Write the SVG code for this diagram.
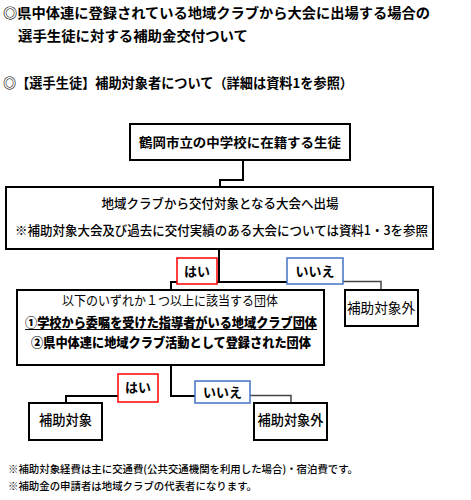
<svg xmlns="http://www.w3.org/2000/svg" width="471" height="500" viewBox="0 0 471 500">
<style>
text{font-family:"Noto Sans CJK JP","Noto Sans",sans-serif;fill:#000}
.t{font-size:14px;font-weight:700}
.b{font-size:13px;font-weight:500}
.n{font-size:13px;font-weight:400}
.h{font-size:13px;font-weight:900}
.f{font-size:10.5px;font-weight:500}
.box{fill:#fff;stroke:#000;stroke-width:2}
.yes{fill:#fff;stroke:#f00;stroke-width:1.5}
.no{fill:#fff;stroke:#4472c4;stroke-width:1.5}
.ln{fill:none;stroke:#000;stroke-width:2}
.lg{fill:none;stroke:#444;stroke-width:1.5}
</style>
<rect width="471" height="500" fill="#fff"/>
<g id="title">
<text class="t" x="3" y="18" textLength="427" lengthAdjust="spacingAndGlyphs">◎県中体連に登録されている地域クラブから大会に出場する場合の</text>
<text class="t" x="18" y="41" textLength="230" lengthAdjust="spacingAndGlyphs">選手生徒に対する補助金交付ついて</text>
<text class="t" x="3" y="88" textLength="350" lengthAdjust="spacingAndGlyphs" style="font-size:13.5px;font-weight:600">◎【選手生徒】補助対象者について（詳細は資料1を参照）</text>
</g>
<g id="connectors">
<polyline class="ln" points="243,160 243,180 220,180 220,188"/>
<polyline class="ln" points="219,249 219,282"/>
<polyline class="ln" points="171,290 171,282 288,282"/>
<polyline class="lg" points="343,281.5 381,281.5 381,290"/>
<polyline class="ln" points="171,365 171,396 196,396"/>
<polyline class="ln" points="66,403 66,396 118,396"/>
<polyline class="lg" points="250,395.5 291,395.5 291,403"/>
</g>
<g id="n1">
<rect class="box" x="130" y="124" width="220" height="36"/>
<text class="b" x="240" y="147" text-anchor="middle" textLength="202" lengthAdjust="spacingAndGlyphs" style="font-weight:700">鶴岡市立の中学校に在籍する生徒</text>
</g>
<g id="n2">
<rect class="box" x="6" y="187" width="427" height="62"/>
<text class="b" x="220" y="208" text-anchor="middle" textLength="237" lengthAdjust="spacingAndGlyphs">地域クラブから交付対象となる大会へ出場</text>
<text class="b" x="15" y="235" textLength="413" lengthAdjust="spacingAndGlyphs">※補助対象大会及び過去に交付実績のある大会については資料1・3を参照</text>
</g>
<g id="yes1">
<rect class="yes" x="177" y="258" width="40" height="26"/>
<text class="b" x="197" y="276" text-anchor="middle" style="font-weight:700">はい</text>
</g>
<g id="no1">
<rect class="no" x="287" y="258" width="56" height="26"/>
<text class="b" x="315" y="276" text-anchor="middle" style="font-weight:700">いいえ</text>
</g>
<g id="n3">
<rect class="box" x="17" y="290" width="307" height="75"/>
<text class="n" x="170" y="305" text-anchor="middle" textLength="216" lengthAdjust="spacingAndGlyphs">以下のいずれか１つ以上に該当する団体</text>
<text class="h" x="25" y="327" textLength="292" lengthAdjust="spacingAndGlyphs">①学校から委嘱を受けた指導者がいる地域クラブ団体</text>
<line x1="25" y1="329.5" x2="317" y2="329.5" stroke="#000" stroke-width="1"/>
<text class="h" x="31" y="347" textLength="280" lengthAdjust="spacingAndGlyphs">②県中体連に地域クラブ活動として登録された団体</text>
</g>
<g id="n4">
<rect class="box" x="345" y="290" width="73" height="36"/>
<text class="n" x="381" y="313" text-anchor="middle" textLength="68" lengthAdjust="spacingAndGlyphs" style="font-size:14px">補助対象外</text>
</g>
<g id="yes2">
<rect class="yes" x="118" y="374" width="40" height="28"/>
<text class="b" x="138" y="392" text-anchor="middle" style="font-weight:700">はい</text>
</g>
<g id="no2">
<rect class="no" x="195" y="381" width="55" height="22"/>
<text class="b" x="222.5" y="397" text-anchor="middle" style="font-weight:700">いいえ</text>
</g>
<g id="n5">
<rect class="box" x="29" y="403" width="73" height="37"/>
<text class="b" x="65.5" y="425" text-anchor="middle" textLength="53" lengthAdjust="spacingAndGlyphs" style="font-size:14px">補助対象</text>
</g>
<g id="n6">
<rect class="box" x="254" y="403" width="73" height="37"/>
<text class="b" x="290.5" y="425" text-anchor="middle" textLength="66" lengthAdjust="spacingAndGlyphs" style="font-size:14px">補助対象外</text>
</g>
<g id="notes">
<text class="f" x="8" y="473" textLength="350" lengthAdjust="spacingAndGlyphs">※補助対象経費は主に交通費(公共交通機関を利用した場合)・宿泊費です。</text>
<text class="f" x="8" y="490" textLength="249" lengthAdjust="spacingAndGlyphs">※補助金の申請者は地域クラブの代表者になります。</text>
</g>
</svg>
